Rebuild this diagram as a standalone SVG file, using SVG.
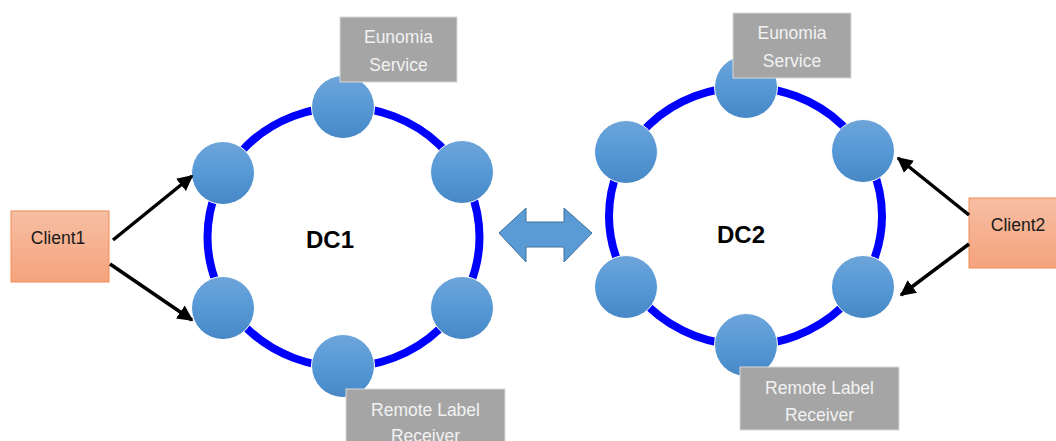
<svg xmlns="http://www.w3.org/2000/svg" width="1056" height="441" viewBox="0 0 1056 441">
<defs>
<linearGradient id="ng" x1="0" y1="0" x2="0" y2="1">
<stop offset="0" stop-color="#6ea5da"/>
<stop offset="0.5" stop-color="#5699d6"/>
<stop offset="1" stop-color="#4787c6"/>
</linearGradient>
<linearGradient id="cg" x1="0" y1="0" x2="0" y2="1">
<stop offset="0" stop-color="#f7bea3"/>
<stop offset="1" stop-color="#f4a37c"/>
</linearGradient>
<marker id="ah" viewBox="0 0 10 10" refX="9" refY="5" markerWidth="4.5" markerHeight="4.5" orient="auto" markerUnits="strokeWidth">
<path d="M0,0 L10,5 L0,10 z" fill="#000"/>
</marker>
<style>
.ring{fill:none;stroke:#0000ff;stroke-width:8}
.node{fill:url(#ng);stroke:#ffffff;stroke-width:1}
.lbl{fill:#a5a5a5;stroke:#d9d9d9;stroke-width:1}
.lt{font-family:"Liberation Sans",Arial,sans-serif;font-size:17.5px;fill:#f2f2f2;text-anchor:middle}
.cl{fill:url(#cg);stroke:#f08c55;stroke-width:1}
.ct{font-family:"Liberation Sans",Arial,sans-serif;font-size:17.5px;fill:#1a1a1a;text-anchor:middle}
.dc{font-family:"Liberation Sans",Arial,sans-serif;font-size:24px;font-weight:bold;fill:#000;text-anchor:middle}
.conn{stroke:#000;stroke-width:3.5;fill:none;marker-end:url(#ah)}
</style>
</defs>
<rect width="1056" height="441" fill="#ffffff"/>

<g id="dc1">
<ellipse class="ring" cx="343.5" cy="237" rx="136" ry="130"/>
<text class="dc" x="330" y="248">DC1</text>
</g>
<g id="dc2">
<ellipse class="ring" cx="745.5" cy="216" rx="136.5" ry="129"/>
<text class="dc" x="741" y="243">DC2</text>
</g>

<g id="dc1-nodes">
<circle class="node" cx="343" cy="107" r="31.5"/>
<circle class="node" cx="223" cy="173" r="31.5"/>
<circle class="node" cx="462" cy="172" r="31.5"/>
<circle class="node" cx="223" cy="308" r="31.5"/>
<circle class="node" cx="462" cy="308" r="31.5"/>
<circle class="node" cx="343" cy="366" r="31.5"/>
</g>
<g id="dc2-nodes">
<circle class="node" cx="746" cy="87" r="31.5"/>
<circle class="node" cx="626" cy="152" r="31.5"/>
<circle class="node" cx="863" cy="151" r="31.5"/>
<circle class="node" cx="626" cy="287" r="31.5"/>
<circle class="node" cx="863" cy="287" r="31.5"/>
<circle class="node" cx="746" cy="345" r="31.5"/>
</g>

<g id="eunomia1">
<rect class="lbl" x="340" y="17" width="117" height="65"/>
<text class="lt" x="398.5" y="43">Eunomia</text>
<text class="lt" x="398.5" y="71">Service</text>
</g>
<g id="remote1">
<rect class="lbl" x="346" y="389" width="159" height="60"/>
<text class="lt" x="425.5" y="416">Remote Label</text>
<text class="lt" x="425.5" y="442">Receiver</text>
</g>
<g id="eunomia2">
<rect class="lbl" x="733" y="13" width="118" height="65"/>
<text class="lt" x="792" y="39">Eunomia</text>
<text class="lt" x="792" y="67">Service</text>
</g>
<g id="remote2">
<rect class="lbl" x="740" y="367" width="159" height="63"/>
<text class="lt" x="819.5" y="394">Remote Label</text>
<text class="lt" x="819.5" y="421">Receiver</text>
</g>

<g id="client1">
<rect class="cl" x="11" y="211" width="98" height="71"/>
<text class="ct" x="58" y="244">Client1</text>
</g>
<g id="client2">
<rect class="cl" x="969" y="198" width="92" height="70"/>
<text class="ct" x="1018" y="231">Client2</text>
</g>

<g id="sync">
<path d="M499,233 L526,208 L526,222 L564,222 L564,208 L592,233 L564,262 L564,247 L526,247 L526,262 Z" fill="#5b9bd5" stroke="#41719c" stroke-width="1"/>
</g>

<g id="connectors">
<line class="conn" x1="113" y1="240" x2="192" y2="176"/>
<line class="conn" x1="110" y1="264" x2="192" y2="320"/>
<line class="conn" x1="969" y1="215" x2="898" y2="158"/>
<line class="conn" x1="969" y1="244" x2="901" y2="295"/>
</g>
</svg>
